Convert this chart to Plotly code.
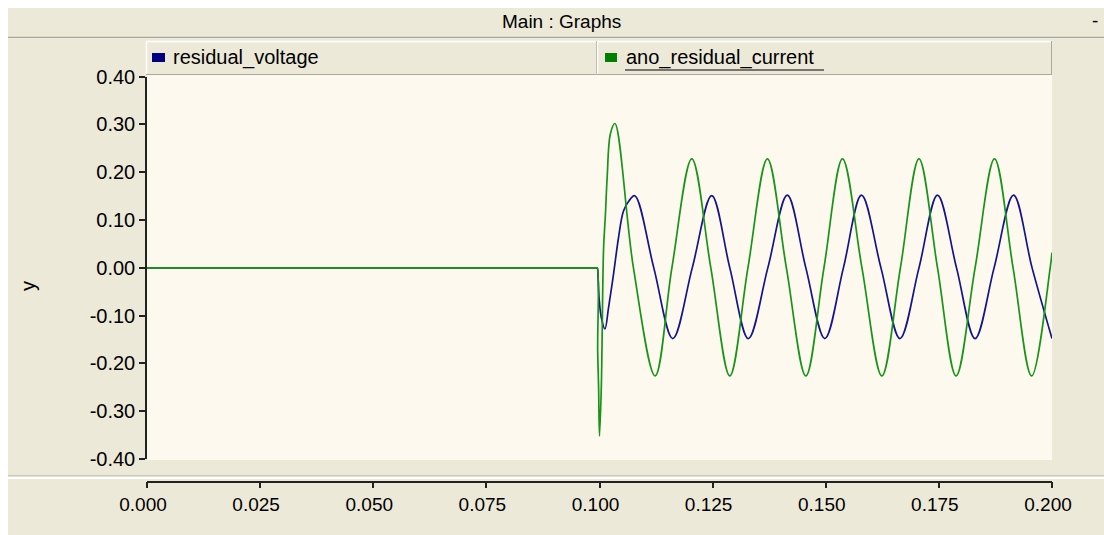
import plotly.graph_objects as go

# ---------------- data ----------------
series_names = ["residual_voltage", "ano_residual_current"]

voltage_t = [0.0, 0.025, 0.05, 0.075, 0.098, 0.0993, 0.0995, 0.0997, 0.0999, 0.1004, 0.1012,
             0.1020, 0.1031, 0.1042, 0.1053, 0.1065, 0.1078, 0.1120, 0.1162, 0.1205, 0.1248,
             0.1288, 0.1329, 0.1372, 0.1415, 0.1456, 0.1498, 0.1539, 0.1579, 0.1622,
             0.1664, 0.1706, 0.1747, 0.1789, 0.1830, 0.1872, 0.1915, 0.1956, 0.2000]
voltage_v = [0.0, 0.0, 0.0, 0.0, 0.0, 0.0, 0.0, -0.023, -0.062, -0.104, -0.128,
             -0.083, -0.013, 0.063, 0.119, 0.140, 0.151, 0.0, -0.148, 0.0, 0.151,
             0.0, -0.148, 0.0, 0.152, 0.0, -0.148, 0.0, 0.152, 0.0,
             -0.148, 0.0, 0.152, 0.0, -0.148, 0.0, 0.152, 0.0, -0.148]

current_t = [0.0, 0.025, 0.05, 0.075, 0.098, 0.0993, 0.0995, 0.0996, 0.0998, 0.1000, 0.1004,
             0.1009, 0.1013, 0.1017, 0.1024, 0.1034, 0.1075, 0.1123, 0.1160, 0.1204, 0.1246,
             0.1288, 0.1328, 0.1371, 0.1413, 0.1456, 0.1496, 0.1537, 0.1580, 0.1624,
             0.1665, 0.1706, 0.1747, 0.1788, 0.1830, 0.1873, 0.1914, 0.1955, 0.1996, 0.2000]
current_v = [0.0, 0.0, 0.0, 0.0, 0.0, 0.0, 0.0, -0.174, -0.250, -0.352, -0.250,
             0.040, 0.110, 0.190, 0.280, 0.302, 0.0, -0.226, 0.0, 0.228, 0.0,
             -0.226, 0.0, 0.228, 0.0, -0.226, 0.0, 0.228, 0.0, -0.226,
             0.0, 0.228, 0.0, -0.226, 0.0, 0.228, 0.0, -0.226, 0.0, 0.032]

series_colors = ["#14148C", "#189418"]
legend_colors = ["#000080", "#008000"]

y_ticks = [0.4, 0.3, 0.2, 0.1, 0.0, -0.1, -0.2, -0.3, -0.4]
y_ticktext = ["0.40", "0.30", "0.20", "0.10", "0.00", "-0.10", "-0.20", "-0.30", "-0.40"]
x_ticks = [0.0, 0.025, 0.05, 0.075, 0.1, 0.125, 0.15, 0.175, 0.2]
x_ticktext = ["0.000", "0.025", "0.050", "0.075", "0.100", "0.125", "0.150", "0.175", "0.200"]

title_text = "Main : Graphs"
y_title = "y"

# ---------------- layout helpers ----------------
W, H = 1104, 535
def px(x):
    return x / W
def py(y):
    return 1 - y / H

PANEL = "#ECE9D8"
PLOTBG = "#FDF9EE"
DARK = "#ACA899"
FONT = "Liberation Sans, Arial, sans-serif"

fig = go.Figure()
fig.add_trace(go.Scatter(x=voltage_t, y=voltage_v, mode="lines", name=series_names[0],
                         line=dict(color=series_colors[0], width=1.7, shape="spline", smoothing=1.0)))
fig.add_trace(go.Scatter(x=current_t, y=current_v, mode="lines", name=series_names[1],
                         line=dict(color=series_colors[1], width=1.7, shape="spline", smoothing=1.0)))

shapes = []
def rect(x0, y0, x1, y1, fill, line=None):
    shapes.append(dict(type="rect", xref="paper", yref="paper", x0=px(x0), x1=px(x1),
                       y0=py(y1), y1=py(y0), fillcolor=fill, layer="below",
                       line=dict(width=0) if line is None else line))
def hline(x0, x1, y, color, w=1):
    shapes.append(dict(type="line", xref="paper", yref="paper", x0=px(x0), x1=px(x1),
                       y0=py(y), y1=py(y), line=dict(color=color, width=w), layer="below"))
def vline(x, y0, y1, color, w=1):
    shapes.append(dict(type="line", xref="paper", yref="paper", x0=px(x), x1=px(x),
                       y0=py(y0), y1=py(y1), line=dict(color=color, width=w), layer="below"))

# title bar
rect(8, 8, 1104, 37, PANEL)
hline(8, 1104, 37.5, DARK, 1.5)
# main graph panel
rect(8, 39, 1104, 476, PANEL)
hline(8, 1104, 476, DARK, 1)
hline(8, 1104, 477.5, "#FFFFFF", 1.5)
# x axis panel
rect(8, 479, 1104, 535, PANEL)
# plot area
rect(147, 75, 1052, 460, PLOTBG)
# legend cells
cells = [(146, 597), (597, 1052)]
for (a, b) in cells:
    rect(a, 41, b, 75, PANEL)
    hline(a, b, 41.5, "#FFFFFF", 1.5)
    vline(a + 0.5, 41, 75, "#FFFFFF", 1.5)
    hline(a, b, 74.5, DARK, 1)
    vline(b - 0.5, 41, 75, DARK, 1)
# legend markers
rect(152, 53, 165, 62, legend_colors[0])
rect(605, 53, 617, 62, legend_colors[1])
# underline of second legend item
hline(625, 824, 70, "#000000", 1.2)

annotations = [
    dict(text=title_text, x=px(561), y=py(21), xref="paper", yref="paper", showarrow=False,
         xanchor="center", yanchor="middle", font=dict(family=FONT, size=19, color="#000000")),
    dict(text="-", x=px(1095), y=py(20), xref="paper", yref="paper", showarrow=False,
         xanchor="center", yanchor="middle", font=dict(family=FONT, size=19, color="#000000")),
    dict(text=series_names[0], x=px(171), y=py(58), xref="paper", yref="paper", showarrow=False,
         xanchor="left", yanchor="middle", font=dict(family=FONT, size=20, color="#000000")),
    dict(text=series_names[1], x=px(624), y=py(58), xref="paper", yref="paper", showarrow=False,
         xanchor="left", yanchor="middle", font=dict(family=FONT, size=20, color="#000000")),
    dict(text=y_title, x=px(28), y=py(286), xref="paper", yref="paper", showarrow=False,
         textangle=-90, xanchor="center", yanchor="middle",
         font=dict(family=FONT, size=20, color="#000000")),
]

fig.update_layout(
    width=W, height=H,
    margin=dict(l=0, r=0, t=0, b=0, autoexpand=False),
    paper_bgcolor="#FFFFFF",
    plot_bgcolor="rgba(0,0,0,0)",
    showlegend=False,
    hovermode=False,
    shapes=shapes,
    annotations=annotations,
    xaxis=dict(domain=[px(147), px(1052)], range=[0, 0.2], anchor="free", position=py(481.7),
               automargin=False,
               showgrid=False, zeroline=False, showline=True, linecolor="#222222", linewidth=1.5,
               ticks="outside", ticklen=6, tickwidth=1.5, tickcolor="#222222",
               tickvals=x_ticks, ticktext=x_ticktext, ticklabelshift=-4,
               tickfont=dict(family=FONT, size=19, color="#000000")),
    yaxis=dict(domain=[py(459), py(76.7)], range=[-0.4, 0.4], automargin=False,
               showgrid=False, zeroline=False, showline=True, linecolor="#222222", linewidth=1.5,
               ticks="outside", ticklen=6, tickwidth=1.5, tickcolor="#222222",
               tickvals=y_ticks, ticktext=y_ticktext,
               tickfont=dict(family=FONT, size=20, color="#000000")),
)

fig.write_html("out.html",
               config={"displayModeBar": False},
               post_script="document.body.style.margin='0px';document.body.style.overflow='hidden';")
